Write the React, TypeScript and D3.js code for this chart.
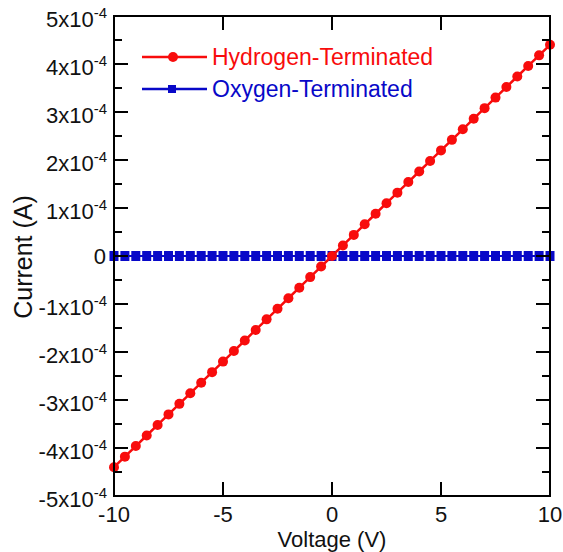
import React from "react";
import * as d3 from "d3";

// Sweep voltages (V)
const voltages = [
  -10, -9.5, -9, -8.5, -8, -7.5, -7, -6.5, -6, -5.5, -5, -4.5, -4, -3.5, -3, -2.5, -2, -1.5, -1, -0.5,
  0, 0.5, 1, 1.5, 2, 2.5, 3, 3.5, 4, 4.5, 5, 5.5, 6, 6.5, 7, 7.5, 8, 8.5, 9, 9.5, 10,
];

// Current in units of 1e-4 A
const hydrogenCurrent = [
  -4.4, -4.18, -3.96, -3.74, -3.52, -3.3, -3.08, -2.86, -2.64, -2.42, -2.2, -1.98, -1.76, -1.54, -1.32, -1.1, -0.88, -0.66, -0.44, -0.22,
  0, 0.22, 0.44, 0.66, 0.88, 1.1, 1.32, 1.54, 1.76, 1.98, 2.2, 2.42, 2.64, 2.86, 3.08, 3.3, 3.52, 3.74, 3.96, 4.18, 4.4,
];
const oxygenCurrent = [
  0, 0, 0, 0, 0, 0, 0, 0, 0, 0, 0, 0, 0, 0, 0, 0, 0, 0, 0, 0,
  0, 0, 0, 0, 0, 0, 0, 0, 0, 0, 0, 0, 0, 0, 0, 0, 0, 0, 0, 0, 0,
];

const xTicks = [-10, -5, 0, 5, 10];
const yTicks = [-5, -4, -3, -2, -1, 0, 1, 2, 3, 4, 5];
const yMinorTicks = [-4.5, -3.5, -2.5, -1.5, -0.5, 0.5, 1.5, 2.5, 3.5, 4.5];

const seriesNames = ["Hydrogen-Terminated", "Oxygen-Terminated"];
const xTitle = "Voltage (V)";
const yTitle = "Current (A)";

const RED = "#f80c0c";
const BLUE = "#0808c8";
const FONT = "'Liberation Sans', Arial, sans-serif";

export default function App() {
  const W = 563;
  const H = 552;
  const left = 114, right = 550, top = 16, bottom = 496;

  const x = d3.scaleLinear().domain([-10, 10]).range([left, right]);
  const y = d3.scaleLinear().domain([-5, 5]).range([bottom, top]);

  const line = d3
    .line<[number, number]>()
    .x((d) => x(d[0]))
    .y((d) => y(d[1]));

  const hPts: [number, number][] = voltages.map((v, i) => [v, hydrogenCurrent[i]]);
  const oPts: [number, number][] = voltages.map((v, i) => [v, oxygenCurrent[i]]);

  const major = 14;
  const minor = 8;
  const sqW = 9;
  const sqH = 10;

  return (
    <svg
      width={W}
      height={H}
      style={{ position: "absolute", left: 0, top: 0, background: "#fff" }}
      fontFamily={FONT}
    >
      <rect x={0} y={0} width={W} height={H} fill="#fff" />

      {/* Oxygen-terminated series */}
      <path d={line(oPts) || ""} fill="none" stroke={BLUE} strokeWidth={2} />
      {oPts.map((d, i) => (
        <rect key={"o" + i} x={x(d[0]) - sqW / 2} y={y(d[1]) - sqH / 2} width={sqW} height={sqH} fill={BLUE} />
      ))}

      {/* Hydrogen-terminated series */}
      <path d={line(hPts) || ""} fill="none" stroke={RED} strokeWidth={2.5} />
      {hPts.map((d, i) => (
        <circle key={"h" + i} cx={x(d[0])} cy={y(d[1])} r={5} fill={RED} />
      ))}

      {/* Frame */}
      <rect x={left} y={top} width={right - left} height={bottom - top} fill="none" stroke="#000" strokeWidth={2} />

      {/* X ticks, bottom and top, pointing inward */}
      {xTicks.slice(1, -1).map((t) => (
        <g key={"xt" + t} stroke="#000" strokeWidth={2}>
          <line x1={x(t)} x2={x(t)} y1={bottom} y2={bottom - major} />
          <line x1={x(t)} x2={x(t)} y1={top} y2={top + major} />
        </g>
      ))}
      {xTicks.map((t) => (
        <text key={"xl" + t} x={x(t)} y={bottom + 26} textAnchor="middle" fontSize={22} fill="#111">
          {t}
        </text>
      ))}

      {/* Y ticks, left and right, pointing inward */}
      {yTicks.slice(1, -1).map((t) => (
        <g key={"yt" + t} stroke="#000" strokeWidth={2}>
          <line x1={left} x2={left + major} y1={y(t)} y2={y(t)} />
          <line x1={right} x2={right - major} y1={y(t)} y2={y(t)} />
        </g>
      ))}
      {yMinorTicks.map((t) => (
        <g key={"ym" + t} stroke="#000" strokeWidth={2}>
          <line x1={left} x2={left + minor} y1={y(t)} y2={y(t)} />
          <line x1={right} x2={right - minor} y1={y(t)} y2={y(t)} />
        </g>
      ))}
      {yTicks.map((t) =>
        t === 0 ? (
          <text key={"yl" + t} x={left - 8} y={y(t) + 8} textAnchor="end" fontSize={22} fill="#111">
            0
          </text>
        ) : (
          <text key={"yl" + t} x={left - 7} y={y(t) + 11} textAnchor="end" fontSize={22} fill="#111">
            {`${t}x10`}
            <tspan dy={-9} fontSize={15}>
              -4
            </tspan>
          </text>
        )
      )}

      {/* Axis titles */}
      <text x={332} y={547} textAnchor="middle" fontSize={22} fill="#111">
        {xTitle}
      </text>
      <text
        transform={`translate(32, 257) rotate(-90)`}
        textAnchor="middle"
        fontSize={25}
        fill="#111"
      >
        {yTitle}
      </text>

      {/* Legend */}
      <g>
        <line x1={142} x2={207} y1={57} y2={57} stroke={RED} strokeWidth={2.5} />
        <circle cx={173} cy={57} r={5} fill={RED} />
        <text x={212} y={65} fontSize={23} fill={RED}>
          {seriesNames[0]}
        </text>
        <line x1={142} x2={207} y1={89} y2={89} stroke={BLUE} strokeWidth={2.5} />
        <rect x={172 - 4} y={89 - 4} width={8} height={8} fill={BLUE} />
        <text x={212} y={97} fontSize={23} fill={BLUE}>
          {seriesNames[1]}
        </text>
      </g>
    </svg>
  );
}
